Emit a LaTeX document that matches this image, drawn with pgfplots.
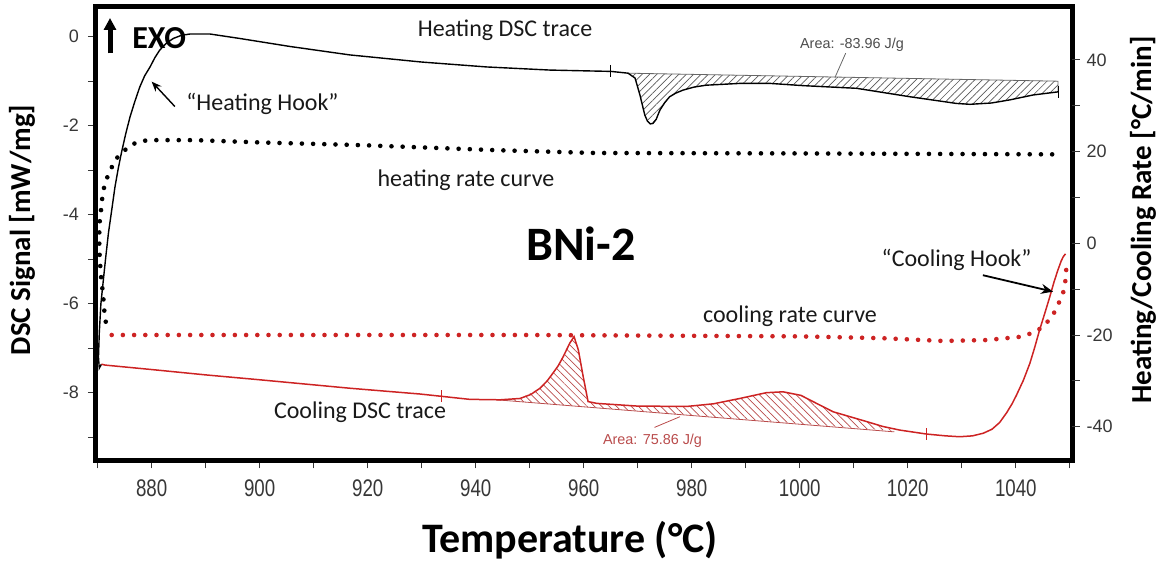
\documentclass[border=0pt]{standalone}
\usepackage{fontspec}
\setmainfont{Carlito}
\newfontfamily\arial{Liberation Sans}
\usepackage{graphicx}
\usepackage{pgfplots}
\pgfplotsset{compat=1.18}
\usetikzlibrary{patterns.meta,arrows.meta}
\definecolor{dscred}{RGB}{205,35,35}
\definecolor{hatchred}{RGB}{185,75,75}
\definecolor{tickgray}{RGB}{55,55,55}
\definecolor{txt}{RGB}{25,25,25}
\newcommand{\nr}[1]{\scalebox{0.78}[1]{#1}}
\begin{document}
\begin{tikzpicture}
\useasboundingbox (0pt,0pt) rectangle (581.5pt,281pt);
\begin{axis}[
 at={(47.75pt,50.5pt)}, anchor=south west,
 scale only axis, width=488.25pt, height=227pt,
 xmin=869.6, xmax=1050.4, ymin=-9.535, ymax=0.667,
 axis line style={line width=2.5pt, black},
 xtick={880,900,...,1040},
 xticklabels={\nr{880},\nr{900},\nr{920},\nr{940},\nr{960},\nr{980},\nr{1000},\nr{1020},\nr{1040}},
 minor xtick={870,890,...,1050},
 ytick={-8,-6,-4,-2,0}, yticklabels={-8,-6,-4,-2,0},
 minor ytick={-9,-7,-5,-3,-1},
 xtick pos=bottom, ytick pos=left, tick align=outside,
 major tick length=3.75pt, minor tick length=3.75pt,
 tick style={draw=tickgray, line width=0.5pt},
 xticklabel style={font=\arial\fontsize{12}{12}\selectfont, text=tickgray, yshift=-2pt},
 yticklabel style={font=\arial\fontsize{9}{9}\selectfont, text=tickgray, xshift=-1pt},
]
% heating hatch
\addplot[draw=none, pattern={Lines[angle=45,distance=2.6pt,line width=0.35pt]}, pattern color=black!65] coordinates {
(968.2,-0.82) (969.5,-0.93) (970.4,-1.31) (971.3,-1.76) (972.2,-1.96) (973.2,-1.91) (974.1,-1.65) (975.9,-1.35) (978.4,-1.20) (982.7,-1.09) (988.9,-1.05) (994.5,-1.05) (1000.6,-1.10) (1010.5,-1.16) (1020.4,-1.35) (1029.0,-1.50) (1031.5,-1.52) (1038.9,-1.42) (1043.2,-1.31) (1047.8,-1.24) (1047.8,-1.00)};
\addplot[black!60, line width=0.4pt] coordinates {(968.2,-0.82) (1047.8,-1.00) (1047.8,-1.24)};
% cooling hatch
\addplot[draw=none, pattern={Lines[angle=-45,distance=2.6pt,line width=0.35pt]}, pattern color=hatchred] coordinates {
(943.9,-8.16) (948.2,-8.13) (951.9,-7.90) (954.3,-7.56) (956.2,-7.19) (957.4,-6.89) (958.2,-6.74) (959.0,-7.04) (959.9,-7.64) (960.8,-8.20) (962.4,-8.24) (969.8,-8.30) (979.0,-8.31) (984.0,-8.25) (988.9,-8.13) (993.8,-8.00) (996.9,-7.98) (1000.2,-8.06) (1003.1,-8.24) (1006.2,-8.43) (1009.3,-8.54) (1012.4,-8.65) (1015.4,-8.76) (1017.5,-8.86)};
\addplot[hatchred, line width=0.4pt] coordinates {(943.9,-8.16) (1017.5,-8.88)};
% heating DSC trace
\addplot[black, line width=0.7pt] coordinates {
(870.7,-7.36) (870.3,-7.45) (870.15,-7.2) (870.3,-6.66) (870.6,-6.0) (871.0,-5.53) (871.5,-4.95) (872.0,-4.41) (872.6,-3.9) (873.2,-3.38) (873.8,-2.97) (874.4,-2.61) (875.2,-2.18) (876.0,-1.80) (876.9,-1.45) (877.8,-1.13) (878.7,-0.88) (879.7,-0.68) (880.6,-0.47) (881.5,-0.30) (882.7,-0.15) (884.0,-0.04) (885.5,0.03) (887.1,0.06) (890.8,0.06) (896.3,-0.04) (905.6,-0.22) (916.7,-0.41) (930,-0.57) (942,-0.68) (953.7,-0.75) (961.1,-0.77) (965,-0.78) (968.2,-0.82) (969.5,-0.93) (970.4,-1.31) (971.3,-1.76) (971.8,-1.90) (972.3,-1.96) (972.8,-1.95) (973.4,-1.86) (974.1,-1.65) (975.0,-1.48) (975.9,-1.35) (977.0,-1.27) (978.4,-1.20) (980.5,-1.13) (982.7,-1.09) (988.9,-1.05) (994.5,-1.05) (1000.6,-1.10) (1010.5,-1.16) (1020.4,-1.35) (1029.0,-1.50) (1031.5,-1.52) (1035.5,-1.49) (1038.9,-1.42) (1043.2,-1.31) (1047.8,-1.24)};
% cooling DSC trace
\addplot[dscred, line width=0.75pt] coordinates {
(870.7,-7.36) (871.4,-7.38) (880,-7.48) (890,-7.60) (900,-7.71) (916.7,-7.90) (929.7,-8.03) (938.9,-8.15) (944.5,-8.16) (948.2,-8.13) (950.2,-8.04) (951.9,-7.90) (953.2,-7.74) (954.3,-7.56) (955.3,-7.39) (956.2,-7.19) (957.4,-6.89) (958.2,-6.74) (959.0,-7.04) (959.9,-7.64) (960.8,-8.20) (962.4,-8.24) (969.8,-8.30) (979.0,-8.31) (984.0,-8.25) (988.9,-8.13) (993.8,-8.00) (996.9,-7.98) (1000.2,-8.06) (1003.1,-8.24) (1006.2,-8.43) (1009.3,-8.54) (1012.4,-8.65) (1015.4,-8.76) (1018.5,-8.84) (1023.5,-8.93) (1027.0,-8.97) (1029.6,-8.99) (1032.0,-8.97) (1034.0,-8.91) (1035.6,-8.82) (1037.0,-8.67) (1038.3,-8.45) (1039.3,-8.25) (1040.1,-8.06) (1041.4,-7.72) (1042.6,-7.34) (1043.5,-6.98) (1044.4,-6.59) (1045.4,-6.20) (1046.3,-5.84) (1047.1,-5.50) (1047.8,-5.24) (1048.4,-5.04) (1048.8,-4.94) (1049.2,-4.88)};
% small cross marks
\addplot[black, only marks, mark=|, mark size=3pt, mark options={line width=0.4pt}] coordinates {(964.9,-0.77) (1047.8,-1.24)};
\addplot[dscred, only marks, mark=|, mark size=3pt, mark options={line width=0.4pt}] coordinates {(933.7,-8.08) (1023.5,-8.93)};
% annotation arrows and leaders
\draw[-{Stealth[length=5pt,width=4pt]}, line width=0.7pt] (axis cs:884.3,-1.57) -- (axis cs:880.0,-1.01);
\draw[-{Stealth[length=6pt,width=5pt]}, line width=0.9pt] (axis cs:1033.9,-5.36) -- (axis cs:1046.9,-5.73);
\draw[black!60, line width=0.4pt] (axis cs:1008.5,-0.37) -- (axis cs:1006.5,-0.92);
\draw[hatchred, line width=0.4pt] (axis cs:973.1,-8.78) -- (axis cs:977.8,-8.54);
\end{axis}
\begin{axis}[
 at={(47.75pt,50.5pt)}, anchor=south west,
 scale only axis, width=488.25pt, height=227pt,
 xmin=869.6, xmax=1050.4, ymin=-47.48, ymax=51.54,
 hide x axis, axis line style={draw=none},
 ytick pos=right, ytick={-40,-20,0,20,40}, yticklabels={-40,-20,0,20,40},
 minor ytick={-30,-10,10,30},
 tick align=outside, major tick length=3.75pt, minor tick length=3.75pt,
 tick style={draw=tickgray, line width=0.5pt},
 yticklabel style={font=\arial\fontsize{9}{9}\selectfont, text=tickgray},
]
% heating rate curve
\addplot[black, line width=2.3pt, line cap=round, dash pattern=on 0pt off 5.6pt] coordinates {
(871.5,-17.1) (871.2,-14.4) (871.0,-10.9) (870.7,-8.4) (870.4,-3.6) (870.3,-0.7) (870.3,2.2) (870.4,5.1) (870.7,8.0) (870.9,10.5) (871.4,13.4) (872.4,16.0) (873.2,18.2) (874.6,19.8) (876.0,21.4) (877.8,22.2) (879.4,22.5) (888,22.5) (900,22.0) (919,21.4) (944,20.3) (962,19.7) (1000,19.6) (1047,19.4) (1048.4,18.9)};
% cooling rate curve
\addplot[dscred, line width=2.3pt, line cap=round, dash pattern=on 0pt off 5.6pt] coordinates {
(872.6,-20.0) (900,-20.0) (950,-20.0) (1000,-20.3) (1015.4,-20.7) (1026.5,-21.3) (1034.6,-21.1) (1040.8,-20.4) (1043.2,-19.5) (1045.1,-18.2) (1046.9,-15.6) (1048.2,-12.4) (1048.8,-10.6) (1049.2,-8.0) (1049.4,-4.4)};
\end{axis}
% labels and annotations
\node[rotate=90, font=\bfseries\fontsize{14.5}{14.5}\selectfont] at (11pt,166pt) {DSC Signal [mW/mg]};
\node[rotate=90, font=\bfseries\fontsize{14.5}{14.5}\selectfont] at (571.5pt,171pt) {Heating/Cooling Rate [°C/min]};
\node[font=\bfseries\fontsize{21}{21}\selectfont] at (285pt,11pt) {Temperature (°C)};
\node[font=\bfseries\fontsize{24}{24}\selectfont] at (290.5pt,159pt) {BNi-2};
\node[font=\bfseries\fontsize{16}{16}\selectfont, inner sep=0pt] at (79.6pt,261.8pt) {EXO};
\draw[line width=2.5pt, -{Triangle[width=6pt,length=6pt]}] (55pt,254.3pt) -- (55pt,272pt);
\node[font=\fontsize{12}{12}\selectfont, text=txt] at (252.5pt,266pt) {Heating DSC trace};
\node[font=\fontsize{12}{12}\selectfont, text=txt] at (233pt,191pt) {heating rate curve};
\node[font=\fontsize{12}{12}\selectfont, text=txt] at (395pt,122.75pt) {cooling rate curve};
\node[font=\fontsize{12}{12}\selectfont, text=txt] at (180pt,75pt) {Cooling DSC trace};
\node[font=\fontsize{12}{12}\selectfont, text=txt] at (131.25pt,229pt) {“Heating Hook”};
\node[font=\fontsize{12}{12}\selectfont, text=txt] at (478.3pt,151pt) {“Cooling Hook”};
\node[font=\arial\fontsize{7.2}{7.2}\selectfont, text=black!70] at (426pt,258.5pt) {Area: -83.96 J/g};
\node[font=\arial\fontsize{7.2}{7.2}\selectfont, text=hatchred] at (326.25pt,60.5pt) {Area: 75.86 J/g};
\end{tikzpicture}
\end{document}
